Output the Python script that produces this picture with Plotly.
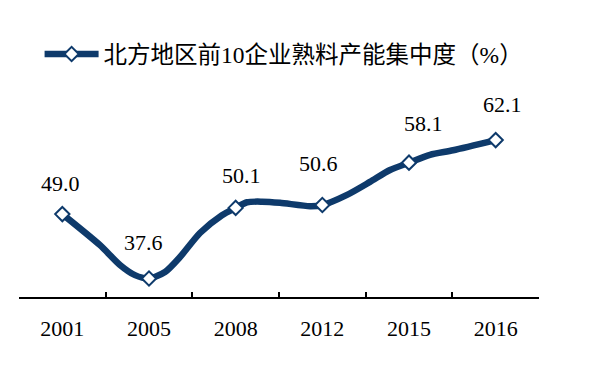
import plotly.graph_objects as go

# ---- data ----
YEARS = ["2001", "2005", "2008", "2012", "2015", "2016"]
VALUES = [49.0, 37.6, 50.1, 50.6, 58.1, 62.1]
LABELS = ["49.0", "37.6", "50.1", "50.6", "58.1", "62.1"]
# smoothed line path (category index, value)
LINE_X = [0, 0.435, 0.665, 0.838, 1, 1.185, 1.358, 1.588, 1.842, 2, 2.131, 2.304, 2.512, 2.858,
          3, 3.285, 3.55, 3.781, 4, 4.242, 4.508, 5]
LINE_Y = [49.0, 43.5, 40.0, 38.2, 37.6, 38.75, 41.4, 45.65, 48.8, 50.1, 51.1, 51.2, 51.0, 50.4,
          50.6, 52.4, 54.7, 56.8, 58.1, 59.5, 60.3, 62.1]
SERIES_NAME = "北方地区前10企业熟料产能集中度（%）"

# label offsets in pixels (dx, dy)
LABEL_DX = [-2, -6, 6, -4, 14, 7]
LABEL_DY = [31, 36, 32, 42, 39, 36]

NAVY = "#0E3A6B"
FONT = "Liberation Serif, Noto Sans CJK SC, serif"

idx = list(range(len(YEARS)))

fig = go.Figure()
fig.add_trace(go.Scatter(
    x=LINE_X, y=LINE_Y, mode="lines", line=dict(color=NAVY, width=6.5, shape="spline", smoothing=0.7),
    showlegend=False, hoverinfo="skip", xaxis="x", yaxis="y"))
fig.add_trace(go.Scatter(
    x=idx, y=VALUES, mode="markers",
    marker=dict(symbol="diamond", size=11, color="white", line=dict(color=NAVY, width=2)),
    showlegend=False, xaxis="x2", yaxis="y"))
# legend entry
fig.add_trace(go.Scatter(
    x=[None], y=[None], mode="lines+markers", name=SERIES_NAME,
    line=dict(color=NAVY, width=6.5),
    marker=dict(symbol="diamond", size=11, color="white", line=dict(color=NAVY, width=2)),
    xaxis="x", yaxis="y"))

for i, (v, t) in enumerate(zip(VALUES, LABELS)):
    fig.add_annotation(x=i, y=v, xref="x2", yref="y", text=t, showarrow=False,
                       xshift=LABEL_DX[i], yshift=LABEL_DY[i],
                       font=dict(family=FONT, size=22, color="black"))

bounds = [i - 0.5 for i in range(len(YEARS) + 1)]
fig.update_layout(
    width=596, height=370,
    margin=dict(l=11, r=65, t=92, b=81),
    paper_bgcolor="white", plot_bgcolor="white",
    font=dict(family=FONT, size=22, color="black"),
    xaxis=dict(range=[-0.5, len(YEARS) - 0.5], tickmode="array", tickvals=bounds,
               showticklabels=False, ticks="inside", ticklen=5, tickwidth=1.5, tickcolor="black",
               showline=True, linecolor="black", linewidth=2, showgrid=False, zeroline=False),
    xaxis2=dict(range=[-0.5, len(YEARS) - 0.5], overlaying="x", anchor="y", side="bottom",
                tickmode="array", tickvals=idx, ticktext=YEARS, ticks="",
                ticklabelstandoff=16,
                tickfont=dict(family=FONT, size=22, color="black"),
                showline=False, showgrid=False, zeroline=False),
    yaxis=dict(range=[34.33, 69.19], visible=False, showgrid=False, zeroline=False),
    legend=dict(orientation="h", xref="container", yref="container", x=0.053, y=0.875,
                xanchor="left", yanchor="middle", bgcolor="rgba(0,0,0,0)",
                font=dict(family=FONT, size=23.5, color="black"), itemwidth=54),
    showlegend=True,
)

fig.write_html("out.html")
